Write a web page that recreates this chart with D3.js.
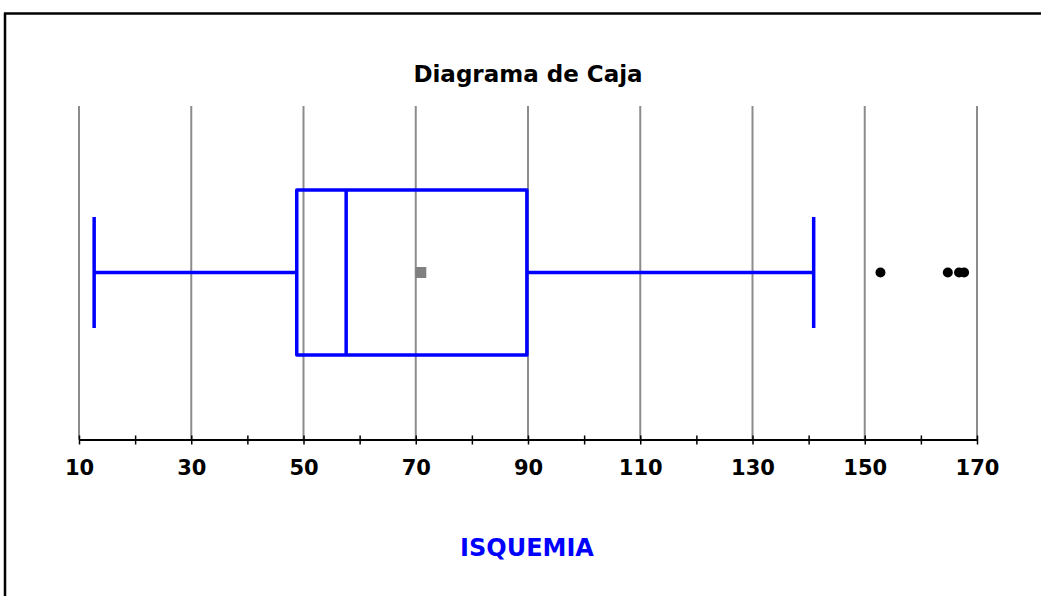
<!DOCTYPE html>
<html>
<head>
<meta charset="utf-8">
<script src="https://cdn.jsdelivr.net/npm/d3@7"></script>
<style>
  html, body { margin: 0; padding: 0; background: #fff; }
  svg { display: block; }
</style>
</head>
<body>
<script>
// ---- data ----
const categories = ["ISQUEMIA"];
const whiskerLow = [12.7];
const q1 = [48.8];
const median = [57.6];
const q3 = [89.8];
const whiskerHigh = [140.9];
const means = [70.9];
const outliers = [[152.8, 164.8, 166.8, 167.7]];
const majorTicks = [10, 30, 50, 70, 90, 110, 130, 150, 170];
const minorTicks = [20, 40, 60, 80, 100, 120, 140, 160];
const titleText = "Diagrama de Caja";

// ---- layout ----
const W = 1041, H = 596;
const svg = d3.select("body").append("svg").attr("width", W).attr("height", H);

// frame
svg.append("line").attr("x1", 4).attr("x2", W).attr("y1", 13.5).attr("y2", 13.5)
  .attr("stroke", "#000").attr("stroke-width", 2.5);
svg.append("line").attr("x1", 5).attr("x2", 5).attr("y1", 13).attr("y2", H)
  .attr("stroke", "#000").attr("stroke-width", 2.5);

const x = d3.scaleLinear().domain([10, 170]).range([79, 977]);
const y = d3.scaleBand().domain(categories).range([106, 439]).paddingInner(0).paddingOuter(0.509);
const axisY = 439.5;
const font = "'DejaVu Sans', Verdana, sans-serif";
const blue = "#0000ff";

// title
svg.append("text").attr("x", 528).attr("y", 82)
  .attr("text-anchor", "middle").attr("font-family", font)
  .attr("font-weight", "bold").attr("font-size", 23).attr("fill", "#000")
  .text(titleText);

// grid lines
svg.append("g").selectAll("line").data(majorTicks).join("line")
  .attr("x1", d => x(d)).attr("x2", d => x(d))
  .attr("y1", 106).attr("y2", axisY)
  .attr("stroke", "#8c8c8c").attr("stroke-width", 2);

// axis
const allTicks = majorTicks.concat(minorTicks).sort((a, b) => a - b);
const axis = d3.axisBottom(x).tickValues(allTicks).tickSize(5).tickSizeOuter(0)
  .tickFormat(d => majorTicks.includes(d) ? d : "");
const gx = svg.append("g").attr("transform", `translate(0,${axisY})`).call(axis);
gx.select(".domain").attr("stroke", "#000").attr("stroke-width", 2);
gx.selectAll(".tick line").attr("y1", -4).attr("y2", 5).attr("stroke", "#000").attr("stroke-width", 1.5);
gx.selectAll(".tick text").attr("y", 35).attr("dy", 0)
  .attr("font-family", font).attr("font-weight", "bold").attr("font-size", 21).attr("fill", "#000");

// box plot
const g = svg.append("g");
categories.forEach((c, i) => {
  const cy = y(c) + y.bandwidth() / 2;
  const bh = y.bandwidth();
  const capH = bh * 0.673;
  const sw = 3.5;
  // whiskers
  g.append("line").attr("x1", x(whiskerLow[i])).attr("x2", x(q1[i]))
    .attr("y1", cy).attr("y2", cy).attr("stroke", blue).attr("stroke-width", sw);
  g.append("line").attr("x1", x(q3[i])).attr("x2", x(whiskerHigh[i]))
    .attr("y1", cy).attr("y2", cy).attr("stroke", blue).attr("stroke-width", sw);
  [whiskerLow[i], whiskerHigh[i]].forEach(v => {
    g.append("line").attr("x1", x(v)).attr("x2", x(v))
      .attr("y1", cy - capH / 2).attr("y2", cy + capH / 2)
      .attr("stroke", blue).attr("stroke-width", sw);
  });
  // box
  g.append("rect").attr("x", x(q1[i])).attr("y", y(c))
    .attr("width", x(q3[i]) - x(q1[i])).attr("height", bh)
    .attr("fill", "none").attr("stroke", blue).attr("stroke-width", sw)
    .attr("stroke-linejoin", "round");
  // median
  g.append("line").attr("x1", x(median[i])).attr("x2", x(median[i]))
    .attr("y1", y(c)).attr("y2", y(c) + bh)
    .attr("stroke", blue).attr("stroke-width", sw);
  // mean
  g.append("rect").attr("x", x(means[i]) - 5.5).attr("y", cy - 5.5)
    .attr("width", 11).attr("height", 11).attr("fill", "#808080");
  // outliers
  g.selectAll(null).data(outliers[i]).join("circle")
    .attr("cx", d => x(d)).attr("cy", cy).attr("r", 5).attr("fill", "#000");
});

// axis label
svg.append("text").attr("x", 527).attr("y", 556)
  .attr("text-anchor", "middle").attr("font-family", font)
  .attr("font-weight", "bold").attr("font-size", 24).attr("fill", blue)
  .text(categories[0]);
</script>
</body>
</html>
